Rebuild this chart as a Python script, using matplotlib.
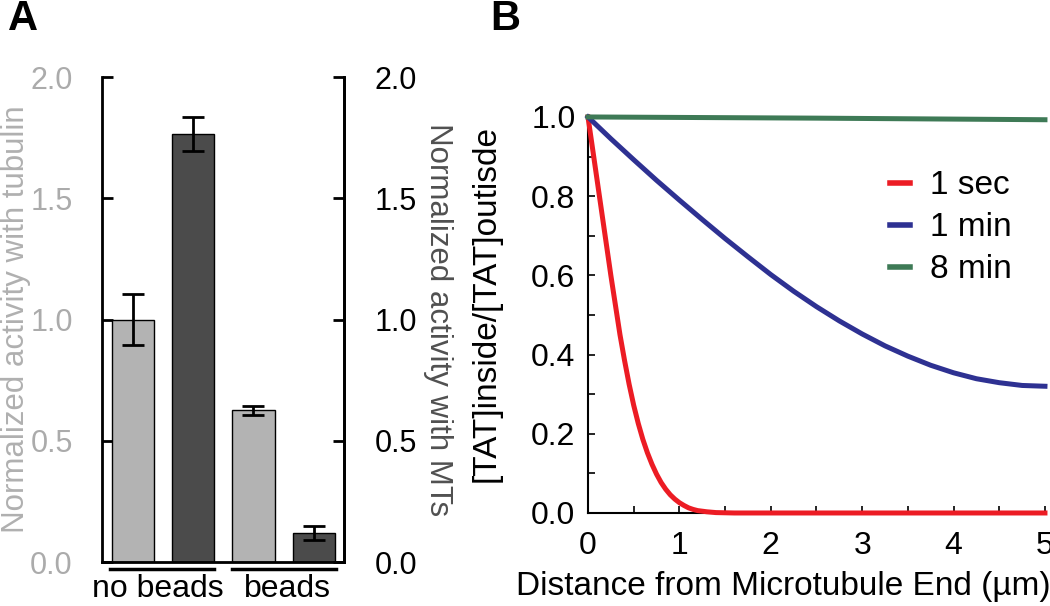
import numpy as np
import matplotlib
matplotlib.use("Agg")
import matplotlib.pyplot as plt
import matplotlib.transforms as mtransforms

plt.rcParams['font.family'] = ['Liberation Sans', 'DejaVu Sans']

# panel A data
groups = ['no beads', 'beads']
bar_values = [1.0, 1.765, 0.625, 0.12]
bar_errors = [0.105, 0.07, 0.02, 0.03]
bar_colors = ['#b3b3b3', '#4b4b4b', '#b3b3b3', '#4b4b4b']
a_ticks = [0.0, 0.5, 1.0, 1.5, 2.0]

# panel B data
red_x = [0, 0.025, 0.05, 0.1, 0.15, 0.2, 0.25, 0.3, 0.35, 0.4, 0.45, 0.5, 0.55, 0.6,
         0.65, 0.7, 0.75, 0.8, 0.85, 0.9, 0.95, 1.0, 1.05, 1.1, 1.15, 1.2, 1.3, 1.4, 1.6, 5.0]
red_y = [1.0, 0.96, 0.92, 0.84, 0.76, 0.68, 0.60, 0.525, 0.45, 0.385, 0.325, 0.272, 0.226, 0.186,
         0.152, 0.123, 0.098, 0.077, 0.06, 0.046, 0.035, 0.026, 0.019, 0.013, 0.009, 0.006,
         0.003, 0.001, 0.0, 0.0]
blue_x = [0, 0.25, 0.5, 0.75, 1.0, 1.25, 1.5, 1.75, 2.0, 2.25, 2.5, 2.75, 3.0,
          3.25, 3.5, 3.75, 4.0, 4.25, 4.5, 4.75, 5.0]
blue_y = [1.0, 0.945, 0.892, 0.84, 0.79, 0.741, 0.693, 0.647, 0.602, 0.56, 0.521, 0.485, 0.452,
          0.422, 0.396, 0.373, 0.354, 0.339, 0.329, 0.322, 0.32]
green_x = [0, 2.5, 5.0]
green_y = [1.0, 0.997, 0.993]
series_labels = ['1 sec', '1 min', '8 min']
series_colors = ['#ec1c24', '#2e3192', '#3e7a56']

fig = plt.figure(figsize=(10.5, 6.06), dpi=100)

# ---- panel A ----
ax = fig.add_axes([0.0971, 0.0726, 0.2305, 0.8003])
x = np.arange(len(bar_values))
ax.bar(x, bar_values, width=0.7, color=bar_colors, edgecolor='black', linewidth=1.0, zorder=2)
ax.errorbar(x, bar_values, yerr=bar_errors, fmt='none', ecolor='black',
            elinewidth=2, capsize=8, capthick=2, zorder=3)
ax.set_xlim(-0.51, 3.5)
ax.set_ylim(0, 2.0)
ax.set_yticks(a_ticks)
ax.set_yticklabels(['%.1f' % t for t in a_ticks])
ax.set_xticks([])
ax.spines['top'].set_visible(False)
for s in ['left', 'right', 'bottom']:
    ax.spines[s].set_linewidth(2)
ax.tick_params(axis='y', direction='in', length=8, width=2, pad=21,
               labelsize=22, labelcolor='#ababab')
ax.set_ylabel('Normalized activity with tubulin', fontsize=22.5, color='#b0b0b0')
ax.yaxis.set_label_coords(-0.292, 0.5)

ax2 = ax.twinx()
ax2.set_ylim(0, 2.0)
ax2.set_yticks(a_ticks)
ax2.set_yticklabels(['%.1f' % t for t in a_ticks])
ax2.spines['top'].set_visible(False)
ax2.spines['right'].set_linewidth(2)
ax2.tick_params(axis='y', direction='in', length=8, width=2, pad=22,
                labelsize=22, labelcolor='black')
ax2.set_ylabel('Normalized activity with MTs', fontsize=22.5, color='#505050',
               rotation=270, va='center')
ax2.yaxis.set_label_coords(1.39, 0.5)

# group lines under the bars
trans = mtransforms.blended_transform_factory(ax.transData, ax.transAxes)
ax.plot([-0.38, 1.35], [-0.0144, -0.0144], color='black', lw=2.5, transform=trans, clip_on=False)
ax.plot([1.65, 3.37], [-0.0144, -0.0144], color='black', lw=2.5, transform=trans, clip_on=False)
ax.text(0.41, -0.072, groups[0], transform=trans, ha='center', va='baseline', fontsize=23)
ax.text(2.57, -0.072, groups[1], transform=trans, ha='center', va='baseline', fontsize=23)

fig.text(0.008, 0.935, 'A', fontsize=30, fontweight='bold', va='bottom', ha='left')

# ---- panel B ----
bx = fig.add_axes([0.56, 0.1535, 0.4352, 0.6535])
bx.plot(red_x, red_y, color=series_colors[0], lw=3.6, label=series_labels[0], clip_on=False, zorder=3)
bx.plot(blue_x, blue_y, color=series_colors[1], lw=3.6, label=series_labels[1], clip_on=False, zorder=3)
bx.plot(green_x, green_y, color=series_colors[2], lw=3.6, label=series_labels[2], clip_on=False, zorder=3)
bx.set_xlim(0, 5)
bx.set_ylim(0, 1.0)
bx.set_xticks([0, 1, 2, 3, 4, 5])
bx.set_xticks(np.arange(0, 5.01, 0.5), minor=True)
bx.set_yticks([0, 0.2, 0.4, 0.6, 0.8, 1.0])
bx.set_yticklabels(['0.0', '0.2', '0.4', '0.6', '0.8', '1.0'])
bx.set_yticks(np.arange(0, 1.01, 0.1), minor=True)
bx.spines['top'].set_visible(False)
bx.spines['right'].set_visible(False)
bx.spines['left'].set_linewidth(1.5)
bx.spines['bottom'].set_linewidth(1.5)
bx.tick_params(which='both', direction='in', length=5, width=1.2)
bx.tick_params(axis='x', which='major', pad=13, labelsize=23)
bx.tick_params(axis='y', which='major', pad=9, labelsize=23)
bx.set_xlabel('Distance from Microtubule End (\u00b5m)', fontsize=24)
bx.xaxis.set_label_coords(-0.158, -0.147)
bx.xaxis.label.set_ha('left')
bx.set_ylabel('[TAT]inside/[TAT]outisde', fontsize=24)
bx.yaxis.set_label_coords(-0.19, 0.53)
leg = bx.legend(loc='upper left', bbox_to_anchor=(0.66, 0.865), frameon=False, fontsize=24,
                handlelength=0.6, handletextpad=0.6, labelspacing=0.33, borderpad=0,
                borderaxespad=0)
for h in leg.get_lines():
    h.set_linewidth(4)

fig.text(0.467, 0.935, 'B', fontsize=30, fontweight='bold', va='bottom', ha='left')

fig.savefig('out.png', dpi=100)
